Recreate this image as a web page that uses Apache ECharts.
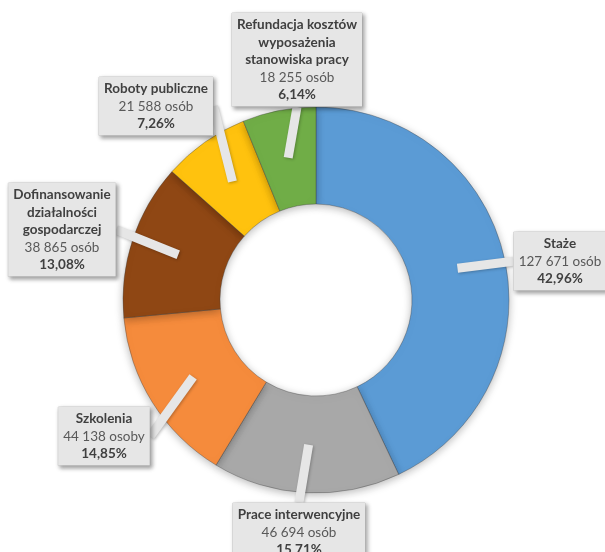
<!DOCTYPE html>
<html>
<head>
<meta charset="utf-8">
<script src="https://cdn.jsdelivr.net/npm/echarts@6/dist/echarts.min.js"></script>
<style>
html,body{margin:0;padding:0;background:#fff;}
#chart{width:605px;height:552px;}
</style>
</head>
<body>
<div id="chart"></div>
<script>
// ---- data ----
const categories = [
  'Staże',
  'Prace interwencyjne',
  'Szkolenia',
  'Dofinansowanie\ndziałalności\ngospodarczej',
  'Roboty publiczne',
  'Refundacja kosztów\nwyposażenia\nstanowiska pracy'
];
const values = [127671, 46694, 44138, 38865, 21588, 18255];
const units = ['osób', 'osób', 'osoby', 'osób', 'osób', 'osób'];
const percents = [42.96, 15.71, 14.85, 13.08, 7.26, 6.14];

// ---- styling / layout ----
const colors = ['#5B9BD5', '#A8A8A8', '#F58B3C', '#8F4714', '#FFC20E', '#70AD47'];
const labelBoxes = [ // [center x, top y] of each callout box
  [560, 232],
  [299, 503],
  [104, 407],
  [62, 183],
  [156, 77],
  [297, 13]
];
const FONT = 'Lato, "Open Sans", sans-serif';

function fmtNum(n) {
  return String(n).replace(/\B(?=(\d{3})+(?!\d))/g, ' ');
}

const seriesData = categories.map((c, i) => ({
  name: c,
  value: values[i],
  itemStyle: { color: colors[i] }
}));

const chart = echarts.init(document.getElementById('chart'), null, { renderer: 'canvas' });

chart.setOption({
  animation: false,
  backgroundColor: '#ffffff',
  series: [
    {
      type: 'pie',
      z: 1,
      center: [316, 300],
      radius: [96, 193],
      startAngle: 90,
      clockwise: true,
      silent: true,
      data: seriesData,
      label: { show: false },
      labelLine: { show: false },
      itemStyle: {
        borderColor: 'rgba(60,60,60,0.45)',
        borderWidth: 0.8,
        shadowBlur: 8,
        shadowOffsetY: 2,
        shadowColor: 'rgba(0,0,0,0.28)'
      }
    },
    {
      type: 'pie',
      z: 5,
      center: [316, 300],
      radius: [0, 145],
      startAngle: 90,
      clockwise: true,
      silent: true,
      avoidLabelOverlap: false,
      data: categories.map((c, i) => ({ name: c, value: values[i] })),
      itemStyle: { color: 'rgba(0,0,0,0)', borderWidth: 0 },
      label: {
        show: true,
        position: 'outside',
        formatter: function (p) {
          const i = p.dataIndex;
          return '{n|' + categories[i] + '}\n{v|' + fmtNum(values[i]) + ' ' + units[i] +
            '}\n{p|' + percents[i].toFixed(2).replace('.', ',') + '%}';
        },
        backgroundColor: '#e6e6e6',
        borderColor: '#d2d2d2',
        borderWidth: 0.5,
        padding: [3, 5, 3, 5],
        shadowBlur: 4,
        shadowOffsetX: 2,
        shadowOffsetY: 2,
        shadowColor: 'rgba(0,0,0,0.35)',
        align: 'center',
        rich: {
          n: { fontFamily: FONT, fontSize: 13.5, fontWeight: 'bold', color: '#404040', lineHeight: 17.5, align: 'center' },
          v: { fontFamily: FONT, fontSize: 13.5, color: '#595959', lineHeight: 17.5, align: 'center' },
          p: { fontFamily: FONT, fontSize: 13.5, fontWeight: 'bold', color: '#404040', lineHeight: 17.5, align: 'center' }
        }
      },
      labelLine: {
        show: true,
        length: 0,
        length2: 0,
        lineStyle: {
          color: '#e6e6e6',
          width: 9,
          cap: 'butt',
          shadowBlur: 3,
          shadowOffsetX: 1,
          shadowOffsetY: 1,
          shadowColor: 'rgba(0,0,0,0.25)'
        }
      },
      labelLayout: function (params) {
        const b = labelBoxes[params.dataIndex];
        return { x: b[0], y: b[1], align: 'center', verticalAlign: 'top', draggable: false };
      }
    }
  ]
});
</script>
</body>
</html>
